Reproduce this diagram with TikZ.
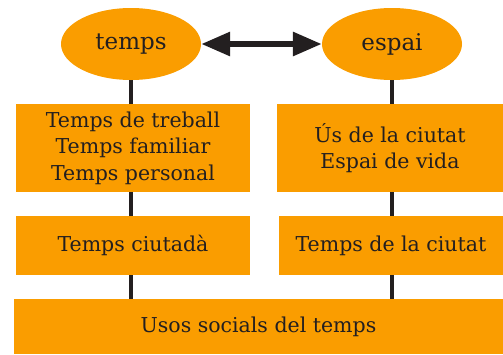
\documentclass[tikz,border=0pt]{standalone}
\usepackage{fontspec}
\setmainfont{DejaVu Serif}
\usepackage{tikz}
\usetikzlibrary{positioning, arrows.meta, shapes.geometric, backgrounds}
\definecolor{taronja}{RGB}{250,157,0}
\definecolor{tinta}{RGB}{35,31,32}

\begin{document}
\begin{tikzpicture}[x=1pt,y=-1pt]
	\tikzset{
		bombolla/.style={ellipse, fill=taronja, minimum width=140pt, minimum height=72pt, inner sep=0pt, text=tinta, font=\fontsize{23}{27}\selectfont},
		caixa/.style={rectangle, fill=taronja, inner sep=0pt, align=center, text=tinta, font=\fontsize{20.5}{26.5}\selectfont},
		lligam/.style={draw=tinta, line width=3.5pt}
	}
	\useasboundingbox (0,0) rectangle (503,354);
	\node[bombolla] (temps) at (131,44) {temps};
	\node[bombolla] (espai) at (392,44) {espai};
	\node[caixa, minimum width=234pt, minimum height=88pt] (tpers) at (133,148) {Temps de treball\\Temps familiar\\Temps personal};
	\node[caixa, minimum width=226pt, minimum height=88pt] (usciu) at (390,148) {Ús de la ciutat\\Espai de vida};
	\node[caixa, minimum width=234pt, minimum height=59pt] (tciut) at (133,245.5) {Temps ciutadà};
	\node[caixa, minimum width=224pt, minimum height=59pt] (tdciu) at (391,245.5) {Temps de la ciutat};
	\node[caixa, minimum width=489pt, minimum height=55pt] (usos) at (258.5,326.5) {Usos socials del temps};
	\begin{scope}[on background layer]
		\draw[lligam] (temps.south) -- (temps.south |- usos.north);
		\draw[lligam] (espai.south) -- (espai.south |- usos.north);
	\end{scope}
	\draw[tinta, line width=6pt, {Triangle[length=29pt,width=23pt]}-{Triangle[length=29pt,width=23pt]}] (temps.east) -- (espai.west);
\end{tikzpicture}
\end{document}
